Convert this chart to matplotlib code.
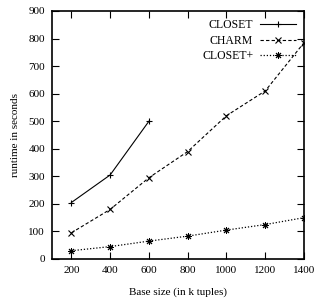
import matplotlib
matplotlib.use('Agg')
import matplotlib.pyplot as plt

# Data
base_closet = [200, 400, 600]
closet = [205, 305, 500]

base_all = [200, 400, 600, 800, 1000, 1200, 1400]
charm = [95, 180, 295, 390, 520, 610, 785]
closet_plus = [30, 45, 65, 83, 105, 125, 150]

x_ticks = [200, 400, 600, 800, 1000, 1200, 1400]
y_ticks = [0, 100, 200, 300, 400, 500, 600, 700, 800, 900]

plt.rcParams['font.family'] = ['Liberation Serif', 'DejaVu Serif']
plt.rcParams['font.size'] = 8

fig = plt.figure(figsize=(3.14, 3.04), dpi=100)
ax = fig.add_axes([52 / 314, 1 - 259 / 304, (304 - 52) / 314, (259 - 11) / 304])

ax.plot(base_closet, closet, color='black', linewidth=0.8, linestyle='-',
        marker='+', markersize=5, markeredgewidth=0.8, label='CLOSET')
ax.plot(base_all, charm, color='black', linewidth=0.8, linestyle=(0, (3, 2)),
        marker='x', markersize=5, markeredgewidth=0.8, label='CHARM')
ax.plot(base_all, closet_plus, color='black', linewidth=0.9, linestyle=(0, (1, 1.5)),
        marker=(8, 2, 0), markersize=5, markeredgewidth=0.7, label='CLOSET+')

ax.set_xlim(100, 1400)
ax.set_ylim(0, 900)
ax.set_xticks(x_ticks)
ax.set_yticks(y_ticks)
ax.tick_params(direction='in', top=True, right=True, length=5, width=0.8, pad=5,
               labelsize=8)
for s in ax.spines.values():
    s.set_linewidth(1.2)

ax.set_xlabel('Base size (in k tuples)', labelpad=9)
ax.set_ylabel('runtime in seconds', labelpad=6)

ax.legend(loc='upper right', frameon=False, markerfirst=False,
          handlelength=3.0, handletextpad=0.6, labelspacing=0.3,
          borderaxespad=0.3, fontsize=8.5)

fig.savefig('out.png', dpi=100)
